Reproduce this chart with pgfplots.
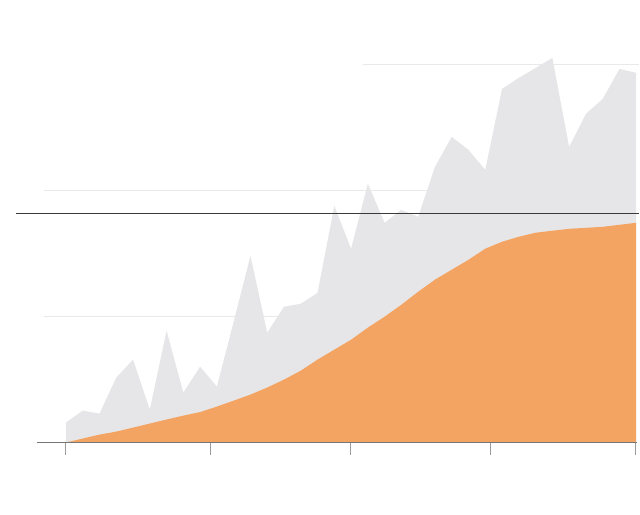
\documentclass[border=0pt]{standalone}
\usepackage{pgfplots}
\pgfplotsset{compat=1.18}
\usepackage{pgfplotstable}
\definecolor{grayfill}{HTML}{E6E6E8}
\definecolor{orangefill}{HTML}{F4A462}
\definecolor{gridc}{HTML}{E9E9E9}
\definecolor{basec}{HTML}{767676}
\definecolor{darkc}{HTML}{3A3A3A}
\definecolor{tickc}{HTML}{9A9A9A}
\pgfplotstableread{
k v
0 15.9
1 25.4
2 23.0
3 51.6
4 65.9
5 26.2
6 88.9
7 39.7
8 60.3
9 44.4
10 96.0
11 148.4
12 87.3
13 107.9
14 110.3
15 119.0
16 188.1
17 154.0
18 205.6
19 174.6
20 184.9
21 179.4
22 219.0
23 242.9
24 232.5
25 216.7
26 281.0
27 289.7
28 297.6
29 305.6
30 234.9
31 261.1
32 273.0
33 296.8
34 293.7
}\weekly
\pgfplotstableread{
k v
0 0
1 3.2
2 6.3
3 8.7
4 11.9
5 15.1
6 18.3
7 21.4
8 24.2
9 28.6
10 33.3
11 38.1
12 43.7
13 50.0
14 57.1
15 65.9
16 73.8
17 81.7
18 91.3
19 100.0
20 109.5
21 119.8
22 129.4
23 137.3
24 145.2
25 154.0
26 159.5
27 163.5
28 166.7
29 168.3
30 169.8
31 170.6
32 171.4
33 173.0
34 174.6
}\cumul
\begin{document}
\begin{tikzpicture}
\begin{axis}[
  scale only axis,
  width=320pt, height=257.5pt,
  xmin=-3.931, xmax=34.187,
  ymin=-57.14, ymax=351.59,
  axis line style={draw=none},
  xtick=\empty, ytick=\empty,
  clip=false,
]
% gridlines
\draw[gridc, line width=0.5pt] (axis cs:-1.31,100) -- (axis cs:33.95,100);
\draw[gridc, line width=0.5pt] (axis cs:-1.31,200) -- (axis cs:33.95,200);
\draw[gridc, line width=0.5pt] (axis cs:17.69,300) -- (axis cs:34.19,300);
% areas
\addplot[fill=grayfill, draw=none] table[x=k, y=v] {\weekly} \closedcycle;
\addplot[fill=orangefill, draw=none] table[x=k, y=v] {\cumul} \closedcycle;
% baseline
\draw[basec, line width=0.75pt] (axis cs:-1.73,0) -- (axis cs:34.06,0);
% ticks
\draw[tickc, line width=0.45pt] (axis cs:0,0) -- (axis cs:0,-10);
\draw[tickc, line width=0.45pt] (axis cs:8.64,0) -- (axis cs:8.64,-10);
\draw[tickc, line width=0.45pt] (axis cs:16.97,0) -- (axis cs:16.97,-10);
\draw[tickc, line width=0.45pt] (axis cs:25.31,0) -- (axis cs:25.31,-10);
\draw[tickc, line width=0.45pt] (axis cs:33.95,0) -- (axis cs:33.95,-10);
% threshold line
\draw[darkc, line width=0.6pt] (axis cs:-2.98,181.7) -- (axis cs:34.19,181.7);
\end{axis}
\end{tikzpicture}
\end{document}
